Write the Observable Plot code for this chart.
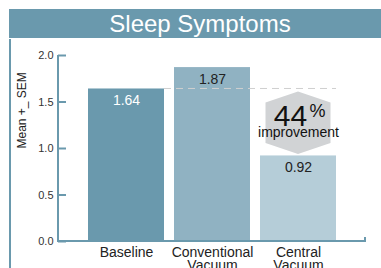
<!DOCTYPE html>
<html>
<head>
<meta charset="utf-8">
<script src="https://cdn.jsdelivr.net/npm/d3@7"></script>
<script src="https://cdn.jsdelivr.net/npm/@observablehq/plot@0.6"></script>
<style>
  html, body { margin: 0; padding: 0; background: #fff; }
  #wrap { position: relative; width: 381px; height: 268px; overflow: hidden; font-family: "Liberation Sans", Arial, sans-serif; }
  #banner { position: absolute; left: 9px; top: 9px; width: 362px; padding-left: 10px; height: 29px; line-height: 29px;
            background: #6a99ad; color: #fff; font-size: 24px; text-align: center; }
  #leftline { position: absolute; left: 9px; top: 39px; width: 2px; height: 229px; background: #6a99ad; }
  #chart { position: absolute; left: 0; top: 0; }
</style>
</head>
<body>
<div id="wrap">
  <div id="chart"></div>
  <div id="banner">Sleep Symptoms</div>
  <div id="leftline"></div>
</div>
<script>
const title = "Sleep Symptoms";
const categories = ["Baseline", "Conventional Vacuum", "Central Vacuum"];
const tickLabels = ["Baseline", "Conventional\nVacuum", "Central\nVacuum"];
const values = [1.64, 1.87, 0.92];
const barColors = ["#6a99ad", "#90b2c2", "#b5cdd8"];
const valueLabelColors = ["#ffffff", "#222222", "#222222"];
const yTicks = [0, 0.5, 1.0, 1.5, 2.0];
const yLabel = "Mean +_ SEM";
const improvementPct = "44";
const improvementText = "improvement";
const refValue = values[0];
const newValue = values[2];

const data = categories.map((c, i) => ({category: c, value: values[i], labelColor: valueLabelColors[i]}));
const mid = (refValue + newValue) / 2;
const axisColor = "#6a99ad";

function decor(index, scales, values, dims) {
  const {x, y} = scales;
  const bw = x.bandwidth();
  const g = d3.create("svg:g");
  // axis lines
  const x0 = dims.marginLeft, x1 = dims.width - dims.marginRight;
  g.append("path")
    .attr("d", `M${x0},${y(yTicks[yTicks.length-1])}V${y(0)}H${x1}V${y(0)-4}`)
    .attr("fill", "none").attr("stroke", axisColor).attr("stroke-width", 2);
  // dashed reference line
  const dx1 = x(categories[1]) - (x.step() - bw);
  const dx2 = x(categories[2]) + bw;
  g.append("line")
    .attr("x1", dx1).attr("x2", dx2)
    .attr("y1", y(refValue)).attr("y2", y(refValue))
    .attr("stroke", "#cfcfcf").attr("stroke-dasharray", "7,5").attr("stroke-width", 1);
  // double arrow hexagon
  const cx = x(categories[2]) + bw / 2;
  const top = y(refValue) + 3, bot = y(newValue) - 1.5, hw = 32.5, hh = 11;
  g.append("path")
    .attr("d", `M${cx},${top}L${cx+hw},${top+hh}L${cx+hw},${bot-hh}L${cx},${bot}L${cx-hw},${bot-hh}L${cx-hw},${top+hh}Z`)
    .attr("fill", "#d1d3d5");
  return g.node();
}

const chart = Plot.plot({
  width: 381,
  height: 268,
  marginLeft: 58,
  marginRight: 16,
  marginTop: 55,
  marginBottom: 27,
  style: {fontFamily: "'Liberation Sans', Arial, sans-serif", background: "transparent", color: "#333"},
  x: {domain: categories, paddingInner: 0.121, paddingOuter: 0.335, axis: null},
  y: {domain: [0, 2], axis: null},
  color: {domain: categories, range: barColors},
  marks: [
    Plot.barY(data, {x: "category", y: "value", fill: "category"}),
    decor,
    Plot.axisY({ticks: yTicks, tickSize: 8, dx: 8, fill: "none", stroke: axisColor, strokeWidth: 2, label: null}),
    Plot.axisY({ticks: yTicks, tickSize: 0, tickPadding: 5, tickFormat: d3.format(".1f"), fontSize: 11, fill: "#333", label: null}),
    Plot.axisX({tickSize: 0, tickPadding: 6, tickFormat: c => tickLabels[categories.indexOf(c)], fontSize: 14, fill: "#222", label: null, lineHeight: 0.95}),
    Plot.text([yLabel], {frameAnchor: "left", dx: -36, rotate: -90, fontSize: 12, fill: "#222"}),
    Plot.text(data, {filter: d => d.labelColor === "#ffffff", x: "category", y: "value", text: d => d.value.toFixed(2), lineAnchor: "top", dy: 6, fontSize: 14, fill: "#ffffff"}),
    Plot.text(data, {filter: d => d.labelColor !== "#ffffff", x: "category", y: "value", text: d => d.value.toFixed(2), lineAnchor: "top", dy: 6, fontSize: 14, fill: "#222"}),
    Plot.text([improvementPct], {x: () => categories[2], y: () => mid, dx: -8, dy: -6, fontSize: 30, fill: "#111"}),
    Plot.text(["%"], {x: () => categories[2], y: () => mid, dx: 19, dy: -11, fontSize: 18, fill: "#111"}),
    Plot.text([improvementText], {x: () => categories[2], y: () => mid, dx: 0, dy: 10, fontSize: 14, fill: "#111"})
  ]
});
document.getElementById("chart").appendChild(chart);
</script>
</body>
</html>
